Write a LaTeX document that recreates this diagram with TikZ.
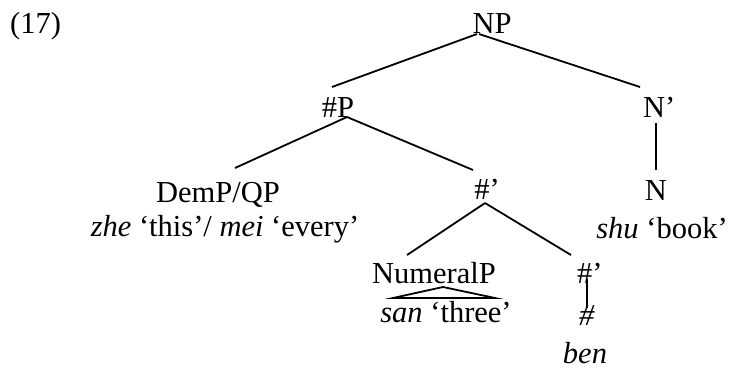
\documentclass[tikz,border=0pt]{standalone}
\usepackage{fontspec}
\setmainfont{Liberation Serif}
\usetikzlibrary{calc}
\begin{document}
\begin{tikzpicture}[x=1pt,y=-1pt,
  lbl/.style={inner sep=0pt,anchor=base,font=\fontsize{30.5}{36}\selectfont},
  lblw/.style={lbl,anchor=base west},
  branch/.style={line width=1.8pt,line cap=butt}]
\useasboundingbox (0,0) rectangle (729,370);

% example number
\node[lblw] (ex) at (10,33) {(17)};

% labels of the tree
\node[lbl]  (NP)    at (492,33)  {NP};
\node[lbl]  (hP)    at (338,117) {\#P};
\node[lblw] (Nbar)  at (643,117) {N’};
\node[lbl]  (DemP)  at (218,202) {DemP/QP};
\node[lbl]  (zhe)   at (225,236) {\textit{zhe} ‘this’/ \textit{mei} ‘every’};
\node[lbl]  (hbar)  at (487,199) {\#’};
\node[lbl]  (N)     at (656,200) {N};
\node[lbl]  (shu)   at (662,238) {\textit{shu} ‘book’};
\node[lbl]  (Num)   at (434,283) {NumeralP};
\node[lbl]  (san)   at (446,322) {\textit{san} ‘three’};
\node[lblw] (hbarb) at (577,283) {\#’};
\node[lbl]  (hash)  at (587,325) {\textit{\#}};
\node[lbl]  (ben)   at (585,363) {\textit{ben}};

% branches
\draw[branch] ($(NP.base)+(-15,1)$) -- ($(hP.base)+(-6,-30)$);
\draw[branch] ($(NP.base)+(-13,1)$) -- ($(Nbar.base west)+(-3,-30)$);
\draw[branch] ($(hP.base)+(9,0)$) -- ($(DemP.base)+(17,-34)$);
\draw[branch] ($(hP.base)+(9,0)$) -- ($(hbar.base)+(-14,-29)$);
\draw[branch] ($(hbar.base)+(-2,4)$) -- ($(Num.base)+(-27,-28)$);
\draw[branch] ($(hbar.base)+(-2,4)$) -- ($(hbarb.base west)+(-6,-28)$);
\draw[branch] ($(N.base)+(0,-77)$) -- ($(N.base)+(0,-30)$);
\draw[branch] ($(hash.base)+(0,-46)$) -- ($(hash.base)+(0,-17)$);

% triangle over the numeral phrase
\draw[branch,line join=miter] ($(san.base)+(-3,-35)$) -- ($(san.base)+(-53,-24)$)
  -- ($(san.base)+(49,-24)$) -- cycle;
\end{tikzpicture}
\end{document}
